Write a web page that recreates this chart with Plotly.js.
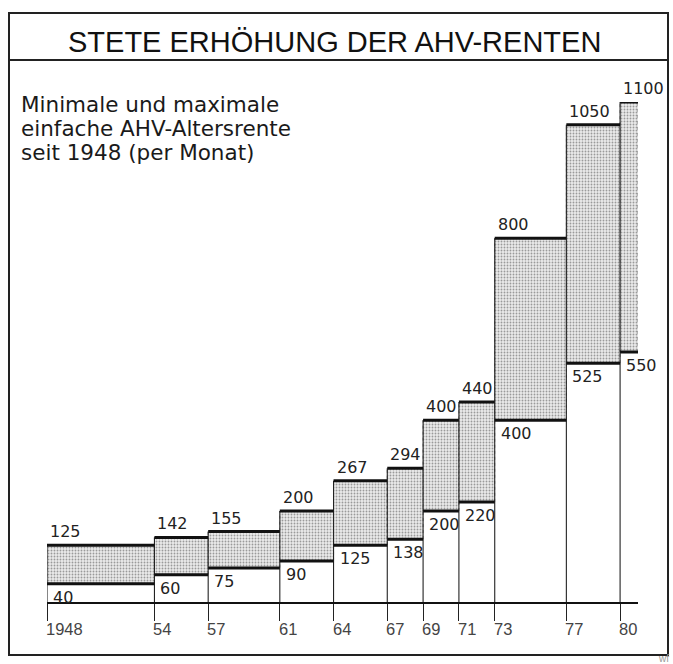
<!DOCTYPE html>
<html>
<head>
<meta charset="utf-8">
<script src="https://cdn.plot.ly/plotly-3.0.1.min.js"></script>
<style>html,body{margin:0;padding:0;background:#fff;}#chart{width:673px;height:664px;}</style>
</head>
<body>
<div id="chart"></div>
<script>
// ---- data ----
const periodStart = [1948, 1954, 1957, 1961, 1964, 1967, 1969, 1971, 1973, 1977, 1980];
const periodEnd   = [1954, 1957, 1961, 1964, 1967, 1969, 1971, 1973, 1977, 1980, 1981];
const minRente    = [40, 60, 75, 90, 125, 138, 200, 220, 400, 525, 550];
const maxRente    = [125, 142, 155, 200, 267, 294, 400, 440, 800, 1050, 1100];
const tickYears   = [1948, 1954, 1957, 1961, 1964, 1967, 1969, 1971, 1973, 1977, 1980];
const tickLabels  = ['1948', '54', '57', '61', '64', '67', '69', '71', '73', '77', '80'];
const titleText   = 'STETE ERHÖHUNG DER AHV-RENTEN';
const subtitleLines = ['Minimale und maximale', 'einfache AHV-Altersrente', 'seit 1948 (per Monat)'];

// ---- geometry helpers (plot area in pixels) ----
const W = 673, H = 664;
const M = {l: 47, r: 35, t: 102, b: 62};
const PW = W - M.l - M.r, PH = H - M.t - M.b;
const fx = X => (X - M.l) / PW;
const fy = Y => (H - M.b - Y) / PH;

const traces = [];
// shaded boxes between min and max
for (let i = 0; i < periodStart.length; i++) {
  traces.push({
    type: 'scatter', mode: 'lines', hoverinfo: 'skip', showlegend: false,
    x: [periodStart[i], periodEnd[i], periodEnd[i], periodStart[i], periodStart[i]],
    y: [minRente[i], minRente[i], maxRente[i], maxRente[i], minRente[i]],
    fill: 'toself',
    fillcolor: '#e4e4e4',
    fillpattern: {shape: '.', fgcolor: '#9a9a9a', bgcolor: '#ebebeb', size: 3, solidity: 0.3},
    line: {width: 0.8, color: '#666', dash: 'dot'}
  });
}
// vertical separators
const vx = [], vy = [];
for (let i = 0; i < tickYears.length; i++) {
  const h = Math.max(maxRente[i], i > 0 ? maxRente[i - 1] : 0);
  vx.push(tickYears[i], tickYears[i], null);
  vy.push(0, h, null);
}
traces.push({type: 'scatter', mode: 'lines', hoverinfo: 'skip', showlegend: false,
  x: vx, y: vy, line: {color: '#222', width: 1.1}});
// max and min lines
function stepSeg(vals) {
  const x = [], y = [];
  for (let i = 0; i < vals.length; i++) {
    x.push(periodStart[i], periodEnd[i], null);
    y.push(vals[i], vals[i], null);
  }
  return {x, y};
}
const mx = stepSeg(maxRente), mn = stepSeg(minRente);
traces.push({type: 'scatter', mode: 'lines', hoverinfo: 'skip', showlegend: false,
  x: mx.x, y: mx.y, line: {color: '#111', width: 3}});
traces.push({type: 'scatter', mode: 'lines', hoverinfo: 'skip', showlegend: false,
  x: mn.x, y: mn.y, line: {color: '#111', width: 3}});

const annotations = [];
const valFont = {family: 'DejaVu Sans', size: 16, color: '#222'};
for (let i = 0; i < periodStart.length; i++) {
  annotations.push({x: periodStart[i], y: maxRente[i], xref: 'x', yref: 'y', text: String(maxRente[i]),
    showarrow: false, xanchor: 'left', yanchor: 'bottom', xshift: 1, yshift: 2, font: valFont});
  annotations.push({x: periodStart[i], y: minRente[i], xref: 'x', yref: 'y', text: String(minRente[i]),
    showarrow: false, xanchor: 'left', yanchor: 'top', xshift: 4, yshift: -2, font: valFont});
}
for (let i = 0; i < tickYears.length; i++) {
  annotations.push({x: tickYears[i], y: 0, xref: 'x', yref: 'y', text: tickLabels[i],
    showarrow: false, xanchor: 'left', yanchor: 'top', xshift: -3, yshift: -16,
    font: {family: 'Liberation Sans', size: 16.5, color: '#444'}});
}
annotations.push({xref: 'paper', yref: 'paper', x: fx(334), y: fy(42), text: titleText,
  showarrow: false, xanchor: 'center', yanchor: 'middle',
  font: {family: 'Liberation Sans', size: 29, color: '#111'}});
const subY = [104, 128, 152];
subtitleLines.forEach((t, k) => annotations.push({xref: 'paper', yref: 'paper', x: fx(19), y: fy(subY[k]),
  text: t, showarrow: false, xanchor: 'left', yanchor: 'middle',
  font: {family: 'DejaVu Sans', size: 21.5, color: '#1a1a1a'}}));
annotations.push({xref: 'paper', yref: 'paper', x: fx(671), y: fy(658), text: 'wf',
  showarrow: false, xanchor: 'right', yanchor: 'middle', font: {family: 'Liberation Sans', size: 10, color: '#999'}});

const shapes = [
  {type: 'rect', xref: 'paper', yref: 'paper', x0: fx(9), x1: fx(668), y0: fy(655), y1: fy(13),
   line: {color: '#222', width: 2}},
  {type: 'line', xref: 'paper', yref: 'paper', x0: fx(9), x1: fx(668), y0: fy(60), y1: fy(60),
   line: {color: '#222', width: 2}}
];

const layout = {
  width: W, height: H, autosize: false,
  margin: M,
  paper_bgcolor: '#fff', plot_bgcolor: 'rgba(0,0,0,0)',
  showlegend: false,
  xaxis: {range: [periodStart[0], periodEnd[periodEnd.length - 1]], showgrid: false, zeroline: false,
    showline: true, linecolor: '#111', linewidth: 2, ticks: 'outside', ticklen: 17, tickwidth: 1,
    tickcolor: '#222', tickvals: tickYears, showticklabels: false, fixedrange: true},
  yaxis: {range: [0, 1100], visible: false, fixedrange: true},
  annotations, shapes
};
Plotly.newPlot('chart', traces, layout, {displayModeBar: false, staticPlot: true});
</script>
</body>
</html>
